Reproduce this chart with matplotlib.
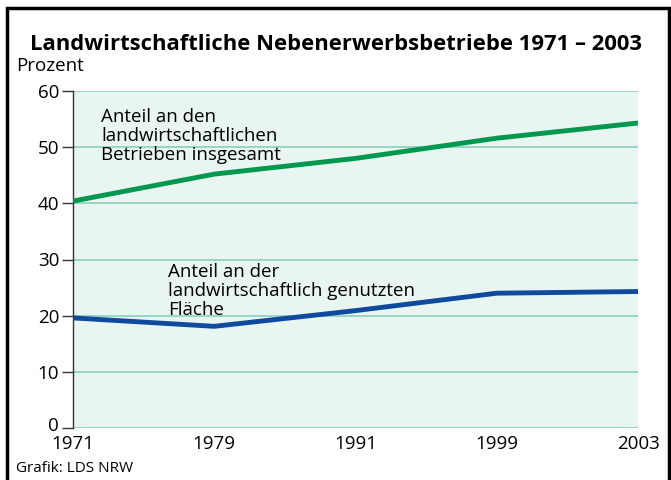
import matplotlib
matplotlib.use("Agg")
import matplotlib.pyplot as plt
import matplotlib.transforms as mtransforms
from matplotlib.patches import Rectangle

plt.rcParams["font.family"] = ["Open Sans", "DejaVu Sans"]

YEARS = ["1971", "1979", "1991", "1999", "2003"]
BETRIEBE = [40.4, 45.2, 48.0, 51.6, 54.3]
FLAECHE = [19.6, 18.1, 20.9, 24.0, 24.3]
Y_TICKS = [0, 10, 20, 30, 40, 50, 60]

GREEN = "#00974f"
BLUE = "#0f4a9e"
GRID = "#86d3bd"
BG = "#e9f5f1"

fig = plt.figure(figsize=(6.71, 4.8), dpi=100)
W, H = 671, 480

# outer frame
fig.patches.append(Rectangle((7 / W, -0.05), (669 - 7) / W, (480 - 8) / H + 0.05,
                             transform=fig.transFigure, fill=False,
                             edgecolor="black", linewidth=2.5))

ax = fig.add_axes([73 / W, 1 - 428 / H, (638 - 73) / W, (428 - 91) / H])
ax.set_facecolor(BG)

for y in Y_TICKS:
    ax.axhline(y, color=GRID, linewidth=1.2, zorder=1)

x = list(range(len(YEARS)))
ax.plot(x, BETRIEBE, color=GREEN, linewidth=3.5, zorder=3,
        solid_capstyle="butt")
ax.plot(x, FLAECHE, color=BLUE, linewidth=3.5, zorder=3,
        solid_capstyle="butt")

ax.set_xlim(0, len(YEARS) - 1)
ax.set_ylim(0, 60)
ax.set_xticks(x)
ax.set_xticklabels(YEARS)
ax.set_yticks(Y_TICKS)

for side in ["top", "right", "bottom"]:
    ax.spines[side].set_visible(False)
ax.spines["left"].set_color("#333333")
ax.spines["left"].set_linewidth(1.0)

ax.tick_params(axis="y", length=8, width=1, color="#333333",
               labelsize=13.5, pad=2)
ax.tick_params(axis="x", length=0, labelsize=13.5, pad=5)

# nudge the "0" label up a little so it doesn't collide with "1971"
zero_lbl = ax.get_yticklabels()[0]
zero_lbl.set_transform(zero_lbl.get_transform() +
                       mtransforms.ScaledTranslation(0, 3 / 72, fig.dpi_scale_trans))

ax.text(0.2, 57.0, "Anteil an den\nlandwirtschaftlichen\nBetrieben insgesamt",
        fontsize=13.5, va="top", ha="left", linespacing=1.07, zorder=4)
ax.text(0.67, 29.4, "Anteil an der\nlandwirtschaftlich genutzten\nFläche",
        fontsize=13.5, va="top", ha="left", linespacing=1.07, zorder=4)

fig.text(30 / W, 1 - 45 / H, "Landwirtschaftliche Nebenerwerbsbetriebe 1971 – 2003",
         fontsize=15.8, fontweight="bold", va="center", ha="left")
fig.text(16 / W, 1 - 66 / H, "Prozent", fontsize=13.5, va="center", ha="left")
fig.text(16 / W, 1 - 468 / H, "Grafik: LDS NRW", fontsize=11, va="center",
         ha="left")

fig.savefig("out.png", dpi=100)
